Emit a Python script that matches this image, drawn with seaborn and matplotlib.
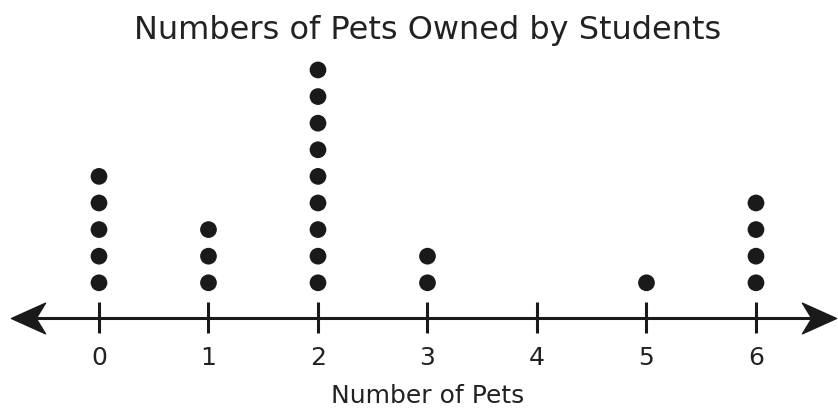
import numpy as np
import pandas as pd
import matplotlib.pyplot as plt
import seaborn as sns
from matplotlib.path import Path

# data
pets = [0, 1, 2, 3, 4, 5, 6]
students = [5, 3, 9, 2, 0, 1, 4]
tick_labels = ['0', '1', '2', '3', '4', '5', '6']

title = 'Numbers of Pets Owned by Students'
xlabel = 'Number of Pets'


def arrow_marker(direction):
    # concave arrow head with its tip at the origin
    verts = [(0, 0), (-2, 0.9), (-1.45, 0), (-2, -0.9), (0, 0)]
    verts = [(direction * x, y) for x, y in verts]
    codes = [Path.MOVETO, Path.LINETO, Path.LINETO, Path.LINETO, Path.CLOSEPOLY]
    return Path(verts, codes)


def main():
    rows = []
    for p, n in zip(pets, students):
        for k in range(n):
            rows.append({'pets': p, 'level': k + 1.32})
    df = pd.DataFrame(rows)

    sns.set_style('white')
    plt.rcParams['font.family'] = ['DejaVu Sans']

    fig = plt.figure(figsize=(8.38, 4.15), dpi=100)
    ax = fig.add_axes([0, 0, 1, 1])

    sns.scatterplot(data=df, x='pets', y='level', color='#1a1a1a', s=145,
                    edgecolor='none', ax=ax, legend=False, zorder=3)

    cor = '#1a1a1a'
    x_left, x_right = -0.80, 6.735

    # number line with arrows at both ends
    ax.plot([x_left + 0.15, x_right - 0.15], [0, 0], color=cor, lw=2.2)
    ax.plot([x_left], [0], marker=arrow_marker(-1), markersize=49, color=cor, lw=0)
    ax.plot([x_right], [0], marker=arrow_marker(1), markersize=49, color=cor, lw=0)
    ax.vlines(pets, -0.58, 0.58, color=cor, lw=2.2)

    for p, lab in zip(pets, tick_labels):
        ax.text(p, -1.77, lab, ha='center', va='baseline', fontsize=18, color='#222222')

    ax.text(3, -3.2, xlabel, ha='center', va='baseline', fontsize=18, color='#222222')
    ax.text(3, 10.5, title, ha='center', va='baseline', fontsize=23, color='#222222')

    ax.set_xlim(-0.904, 6.749)
    ax.set_ylim(-3.65, 11.95)
    ax.axis('off')

    plt.savefig('out.png', dpi=100)


if __name__ == '__main__':
    main()
